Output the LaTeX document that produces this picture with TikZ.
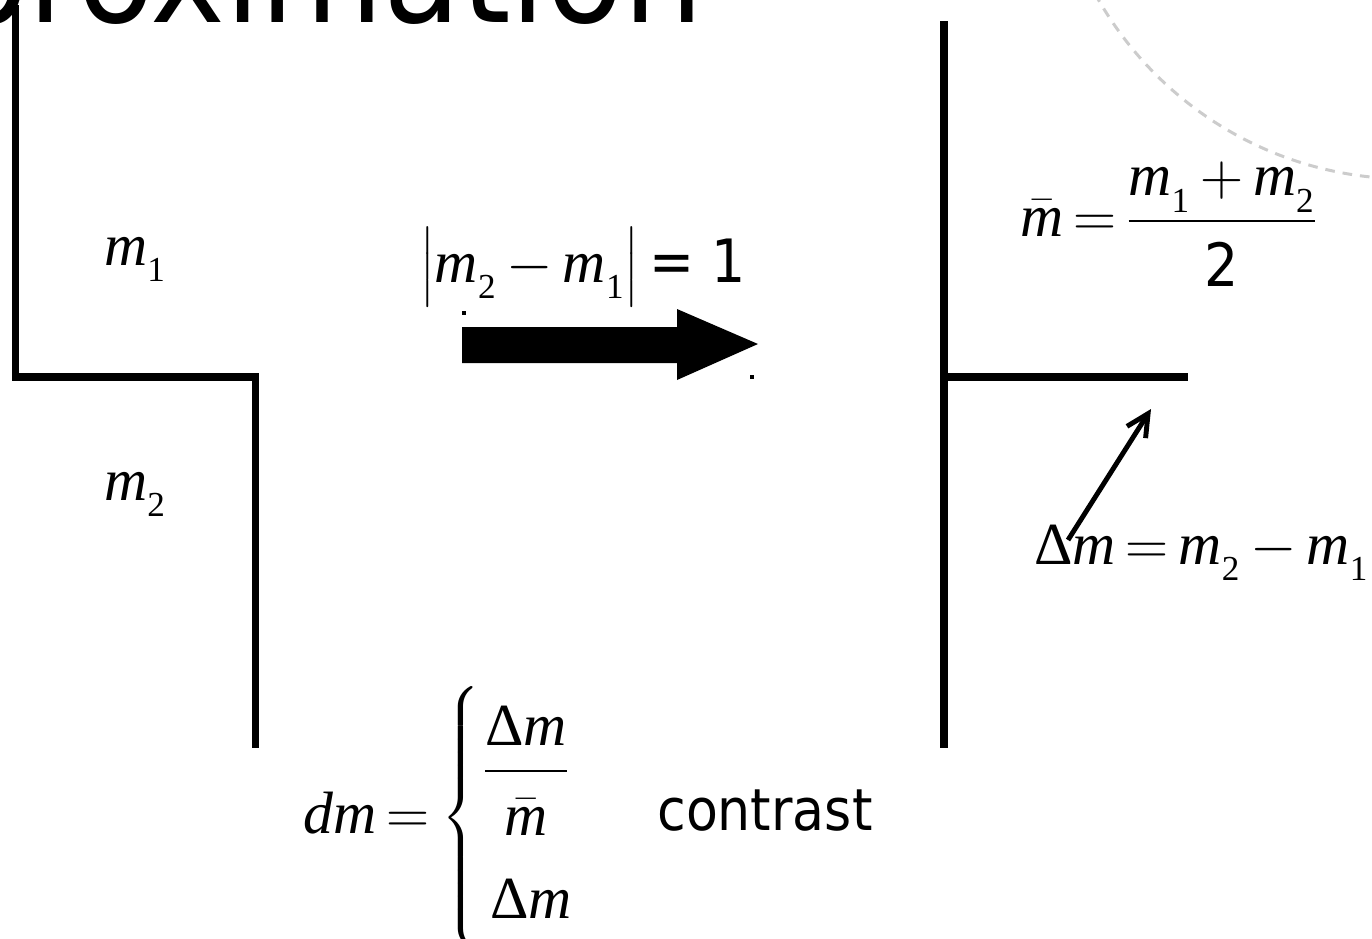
\RequirePackage{fix-cm}
\documentclass[tikz,border=0pt]{standalone}
\usepackage{amsmath}
\usepackage[no-math]{fontspec}
\setmainfont{Liberation Serif}
\setsansfont{DejaVu Sans Condensed}
\usetikzlibrary{arrows.meta,positioning}
\newcommand{\vm}{\textit{m}}
\newcommand{\vd}{\textit{d}}
\newcommand{\dlt}{\textrm{Δ}}
\newcommand{\idx}[1]{_{\raisebox{-4.5pt}{\fontsize{20}{24}\selectfont\rmfamily #1}}}
\newcommand{\tightmath}{\thickmuskip=3mu\relax\medmuskip=3mu\relax}

\begin{document}
\begin{tikzpicture}[x=0.02cm, y=-0.02cm,
  wall/.style={line width=4.3pt},
  eqn/.style={inner sep=0pt, font=\fontsize{34}{41}\selectfont\tightmath},
  sqdot/.style={fill, inner sep=0pt, minimum size=2.3pt},
  pointer/.style={-{Straight Barb[length=4.4mm,width=4.4mm]}, line width=2.8pt}]
  \useasboundingbox (0,0) rectangle (1372,938);

  % Title, cut at the top
  \node[inner sep=0pt, anchor=base east, font=\sffamily\fontsize{80}{96}\selectfont] (title) at (704,22) {Approximation};

  % Dashed arc in the corner
  \draw[gray!40, line width=1.7pt, dash pattern=on 5.5pt off 4.5pt] (1408,-178) circle[radius=7.14cm];

  % Step before (left) and after (right)
  \draw[wall] (15.5,5) -- (15.5,377) -- (255.5,377) -- (255.5,748);
  \draw[wall] (944,21) -- (944,748);
  \draw[wall] (944,377) -- (1188,377);

  \node[eqn, anchor=base west] (mone) at (104,265) {$\vm\idx{1}$};
  \node[eqn, anchor=base west] (mtwo) at (104,500) {$\vm\idx{2}$};

  % Big arrow
  \node[eqn, anchor=base west] (diff) at (420,282) {$\bigl|\vm\idx{2}-\vm\idx{1}\bigr|\,\textsf{= 1}$};
  \fill (462,327) -- (677,327) -- (677,309) -- (758,344) -- (677,380) -- (677,363) -- (462,363) -- cycle;
  \node[sqdot] (dota) at (464,313) {};
  \node[sqdot] (dotb) at (752,377) {};

  % Right side
  \node[eqn, anchor=base west] (mbar) at (1020,236) {$\bar{\vm}=\dfrac{\vm\idx{1}+\vm\idx{2}}{\rule{0pt}{1em}\textsf{2}}$};
  \node[eqn, anchor=base west] (dmdef) at (1034,564) {$\dlt\vm=\vm\idx{2}-\vm\idx{1}$};
  \coordinate (atail) at (1068,540);
  \coordinate (ahead) at (1151,409);
  \draw[pointer] (atail) -- (ahead);

  % Contrast
  \node[eqn, anchor=base west] (dmlhs) at (303,833) {$\vd\vm=$};
  \node[eqn, font=\fontsize{24}{29}\selectfont] (brace) at (462,818) {$\left\{\vrule height 2.25cm depth 2.25cm width 0pt\right.$};
  \node[eqn, anchor=base] (ratio) at (526,786) {$\dfrac{\dlt\vm}{\rule{0pt}{0.97em}\bar{\vm}}$};
  \node[eqn, anchor=base] (dmabs) at (531,918) {$\dlt\vm$};
  \node[inner sep=0pt, anchor=base west, font=\sffamily\fontsize{33}{40}\selectfont] (contrast) at (657,830) {contrast};
\end{tikzpicture}
\end{document}
